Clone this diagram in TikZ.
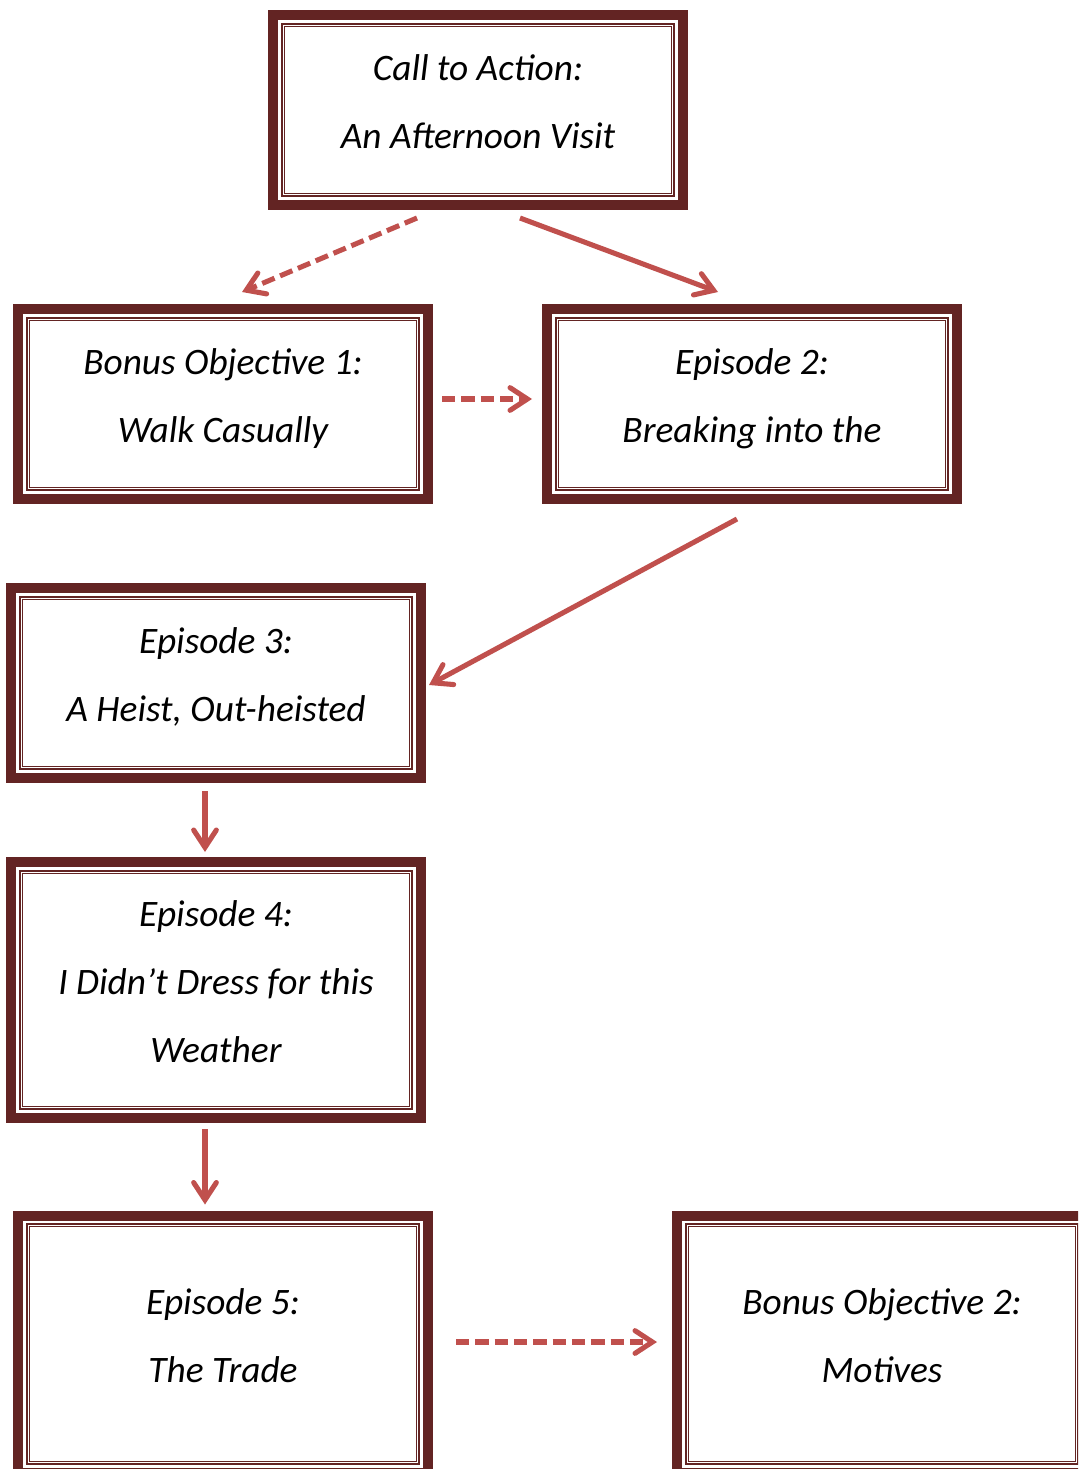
\documentclass[tikz,border=0pt]{standalone}
\usepackage{fontspec}
\setmainfont{Carlito}
\usetikzlibrary{arrows.meta}
\definecolor{frameRed}{HTML}{632423}
\definecolor{arrowRed}{HTML}{C0504D}
\newcommand{\lowstrut}{\rule[-12pt]{0pt}{0pt}}

\begin{document}
\begin{tikzpicture}[x=0.75pt, y=-0.75pt,
            arrowstyle/.style={->, arrowRed, line width=3.8pt, line cap=butt, >={Straight Barb[length=13pt, width=17pt, line cap=round]}},
            dashstyle/.style={arrowstyle, dash pattern=on 10pt off 4.5pt}]
            % A framed box style
            \tikzstyle{framebox} = [draw=frameRed, line width=7.5pt, rectangle, align=center, text centered,
                minimum width=307.5pt, minimum height=142.5pt, font=\fontsize{28}{51}\selectfont\itshape,
                execute at end node=\lowstrut,
                path picture={
                    \draw[frameRed, line width=1.5pt] ([shift={(6.4pt,-6.4pt)}]path picture bounding box.north west) rectangle ([shift={(-6.4pt,6.4pt)}]path picture bounding box.south east);
                    \draw[frameRed, line width=0.75pt] ([shift={(8.6pt,-8.6pt)}]path picture bounding box.north west) rectangle ([shift={(-8.6pt,8.6pt)}]path picture bounding box.south east);
                }]
            \clip (0,0) rectangle (1078,1469);
            % Define the nodes
            \node (call) [framebox] at (478,110) {Call to Action:\\An Afternoon Visit};
            \node (bonA) [framebox] at (223,404) {Bonus Objective 1:\\Walk Casually};
            \node (epB) [framebox] at (752,404) {Episode 2:\\Breaking into the};
            \node (epC) [framebox] at (216,683) {Episode 3:\\A Heist, Out-heisted};
            \node (epD) [framebox, minimum height=192pt] at (216,990) {Episode 4:\\I Didn’t Dress for this\\Weather};
            \node (epE) [framebox, minimum height=192.75pt] at (223,1344) {Episode 5:\\The Trade};
            \node (bonB) [framebox, minimum height=192.75pt] at (882,1344) {Bonus Objective 2:\\Motives};

            % Draw the arrows between the boxes
            \draw [dashstyle] ([shift={(-61,8)}]call.south) -- ([shift={(19,-12)}]bonA.north);
            \draw [arrowstyle] ([shift={(42,8)}]call.south) -- ([shift={(-34,-12)}]epB.north);
            \draw [dashstyle] ([shift={(9,-5)}]bonA.east) -- ([shift={(-10,-5)}]epB.west);
            \draw [arrowstyle] ([shift={(-15,15)}]epB.south) -- ([shift={(3,2)}]epC.east);
            \draw [arrowstyle] ([shift={(-11,8)}]epC.south) -- ([shift={(-11,-5)}]epD.north);
            \draw [arrowstyle] ([shift={(-11,6)}]epD.south) -- ([shift={(-18,-6)}]epE.north);
            \draw [dashstyle] ([shift={(23,-2)}]epE.east) -- ([shift={(-15,-2)}]bonB.west);
\end{tikzpicture}
\end{document}
